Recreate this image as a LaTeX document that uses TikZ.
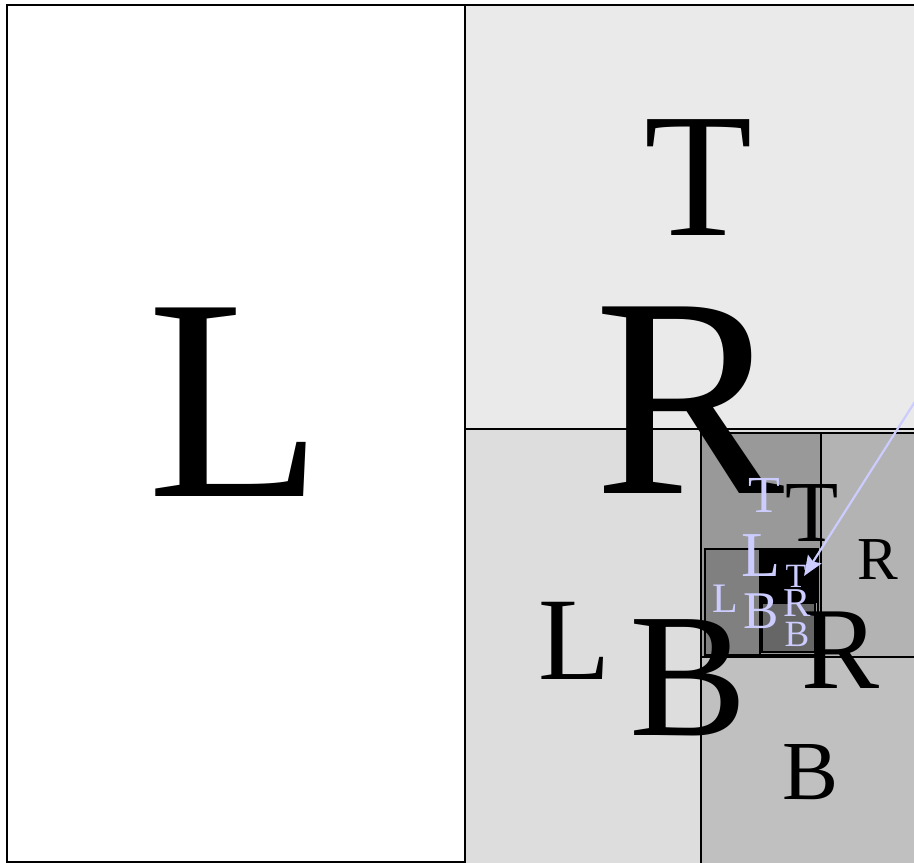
\documentclass[tikz,border=0pt]{standalone}
\usepackage{fontspec}
\setmainfont{Liberation Serif}
\usetikzlibrary{arrows.meta}
\definecolor{lav}{HTML}{CCCCFF}
\definecolor{gT}{HTML}{EAEAEA}
\definecolor{gL}{HTML}{DDDDDD}
\definecolor{gB}{HTML}{C0C0C0}
\definecolor{gR}{HTML}{B3B3B3}
\definecolor{gM}{HTML}{999999}
\definecolor{gN}{HTML}{808080}
\definecolor{gD}{HTML}{666666}
\newcommand{\fs}[1]{\fontsize{#1}{#1}\selectfont}
\begin{document}
\begin{tikzpicture}[x=1pt,y=-1pt,
  region/.style={draw=black,line width=2pt},
  subregion/.style={draw=black,line width=1.4pt},
  lbl/.style={inner sep=0pt,outer sep=0pt,anchor=center},
  dark/.style={lbl,text=black},
  pale/.style={lbl,text=lav},
  link/.style={draw=lav,line width=2.2pt,-{Stealth[length=20pt,width=16pt,inset=3pt]}}]
\useasboundingbox (0,0) rectangle (914,863);
\begin{scope}
\clip (0,0) rectangle (914,863);
% level 0 / 1 / 2 regions
\filldraw[region,fill=white] (6.5,5) rectangle (465,862);
\filldraw[region,fill=gT] (465,5) rectangle (940,429);
\filldraw[region,fill=gL] (465,429) rectangle (940,900);
\filldraw[region,fill=gL] (465,429) rectangle (701,900);
% right part of bottom
\filldraw[region,fill=gB] (701,432.5) rectangle (940,900);
\filldraw[region,fill=gB] (701,657) rectangle (940,900);
\filldraw[region,fill=gM] (701,432.5) rectangle (821,657);
\filldraw[region,fill=gR] (821,432.5) rectangle (940,657);
% inner box
\filldraw[subregion,fill=gM] (705,549) rectangle (818,655);
\filldraw[subregion,fill=gN] (705,549) rectangle (760,655);
\filldraw[subregion,fill=black] (760,549) rectangle (818,602);
\filldraw[subregion,fill=gD] (762,603) rectangle (815,652);
% labels
\node[dark] (l0) at (235,402) {\fs{288}L};
\node[dark] (r0) at (690,400) {\fs{285}R};
\node[dark] (t1) at (699,178) {\fs{177}T};
\node[dark] (b1) at (689,678) {\fs{177}B};
\node[dark] (l2) at (575,641) {\fs{118}L};
\node[dark] (r2) at (841,650) {\fs{117}R};
\node[dark] (t3) at (812,513) {\fs{87}T};
\node[dark] (b3) at (811,772) {\fs{84}B};
\node[pale] (l4) at (761,556) {\fs{64}L};
\node[dark] (r4) at (878,560) {\fs{61}R};
\node[pale] (t5) at (764,495) {\fs{52}T};
\node[pale] (b5) at (761,611) {\fs{53}B};
\node[pale] (l6) at (725,599) {\fs{42}L};
\node[pale] (r6) at (797,603) {\fs{41}R};
\node[pale] (t7) at (796,576) {\fs{34}T};
\node[pale] (b7) at (797,634) {\fs{37}B};
% arrow
\coordinate (src) at (930,378);
\coordinate (dst) at (804,576);
\draw[link] (src) -- (dst);
\end{scope}
\end{tikzpicture}
\end{document}
